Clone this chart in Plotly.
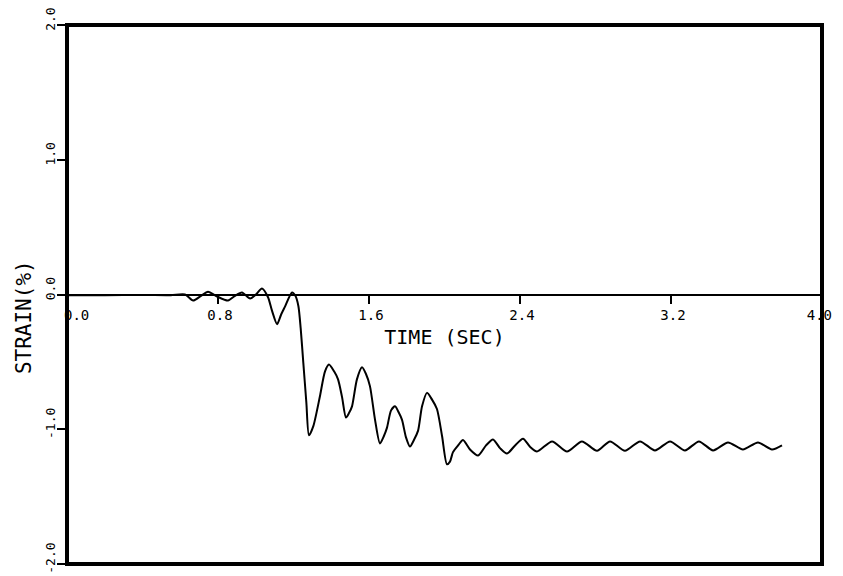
import plotly.graph_objects as go

# Time (s) and strain (%)
time_sec = [0.0, 0.2, 0.4, 0.55, 0.625, 0.668, 0.710, 0.747, 0.795, 0.853,
            0.890, 0.927, 0.970, 1.001, 1.033, 1.065, 1.086, 1.113, 1.134, 1.155,
            1.192, 1.210, 1.226, 1.238, 1.252, 1.268, 1.282, 1.305, 1.340, 1.367,
            1.388, 1.415, 1.436, 1.457, 1.478, 1.494, 1.510, 1.536, 1.563, 1.584,
            1.605, 1.632, 1.658, 1.679, 1.695, 1.717, 1.738, 1.759, 1.775, 1.796,
            1.817, 1.838, 1.860, 1.881, 1.907, 1.934, 1.960, 1.987, 2.013, 2.029,
            2.045, 2.072, 2.098, 2.135, 2.178, 2.220, 2.257, 2.294, 2.331, 2.374,
            2.416, 2.453, 2.490, 2.570, 2.649, 2.728, 2.808, 2.877, 2.956, 3.036,
            3.115, 3.195, 3.274, 3.348, 3.423, 3.502, 3.581, 3.661, 3.735, 3.788]
strain_pct = [-0.005, -0.005, -0.003, -0.005, 0.0, -0.045, -0.01, 0.02, -0.015, -0.045,
              -0.01, 0.015, -0.03, 0.0, 0.045, -0.02, -0.12, -0.22, -0.15, -0.09,
              0.015, -0.01, -0.087, -0.25, -0.507, -0.80, -1.045, -0.977, -0.755, -0.57,
              -0.52, -0.57, -0.63, -0.76, -0.913, -0.88, -0.83, -0.63, -0.54, -0.59,
              -0.68, -0.93, -1.105, -1.05, -0.99, -0.86, -0.83, -0.88, -0.93, -1.06,
              -1.128, -1.08, -1.01, -0.83, -0.73, -0.78, -0.85, -1.05, -1.26, -1.24,
              -1.17, -1.12, -1.08, -1.15, -1.195, -1.12, -1.076, -1.14, -1.18, -1.12,
              -1.07, -1.13, -1.165, -1.09, -1.165, -1.09, -1.16, -1.09, -1.16, -1.09,
              -1.157, -1.09, -1.157, -1.09, -1.157, -1.098, -1.15, -1.098, -1.15, -1.12]

x_ticks_inner = [0.8, 1.6, 2.4, 3.2]
x_tick_text_inner = ["0.8", "1.6", "2.4", "3.2"]
x_tick_start = [0.0]
x_tick_start_text = ["0.0"]
x_tick_end = [4.0]
x_tick_end_text = ["4.0"]
y_ticks = [-2.0, -1.0, 0.0, 1.0, 2.0]
y_tick_text = ["-2.0", "-1.0", "0.0", "1.0", "2.0"]

FONT = "DejaVu Sans Mono"
TICKFONT = dict(family=FONT, size=14, color="black")

fig = go.Figure()
fig.add_trace(go.Scatter(
    x=time_sec, y=strain_pct, mode="lines",
    line=dict(color="black", width=2, shape="spline", smoothing=0.7),
    showlegend=False, hoverinfo="skip",
))
# empty traces so the label-only overlay axes are drawn
fig.add_trace(go.Scatter(x=[], y=[], xaxis="x2", yaxis="y", showlegend=False, hoverinfo="skip"))
fig.add_trace(go.Scatter(x=[], y=[], xaxis="x3", yaxis="y", showlegend=False, hoverinfo="skip"))

label_axis = dict(
    range=[0, 4], overlaying="x", anchor="free", position=0.5, automargin=False,
    showgrid=False, zeroline=False, showline=False,
    ticks="outside", ticklen=8, tickwidth=2, tickcolor="rgba(0,0,0,0)",
    ticklabelstandoff=8, ticklabeloverflow="allow", tickfont=TICKFONT,
)

# page body adds an 8px offset, so the figure is 835x568
fig.update_layout(
    width=835, height=568,
    margin=dict(l=59, r=21, t=17, b=12, autoexpand=False),
    paper_bgcolor="white", plot_bgcolor="white",
    font=dict(family=FONT, color="black"),
    xaxis=dict(
        range=[0, 4], anchor="free", position=0.5, automargin=False,
        showgrid=False, zeroline=False,
        showline=True, linecolor="black", linewidth=2,
        ticks="outside", ticklen=8, tickwidth=2, tickcolor="black",
        tickvals=x_ticks_inner, ticktext=x_tick_text_inner,
        ticklabelshift=2, ticklabeloverflow="allow",
        tickfont=TICKFONT,
        title=dict(text="TIME (SEC)", font=dict(family=FONT, size=20, color="black"), standoff=7),
    ),
    xaxis2=dict(label_axis, tickvals=x_tick_start, ticktext=x_tick_start_text,
                ticklabelposition="outside right", ticklabelshift=-4),
    xaxis3=dict(label_axis, tickvals=x_tick_end, ticktext=x_tick_end_text,
                ticklabelposition="outside left", ticklabelshift=11),
    yaxis=dict(
        range=[-2, 2], showgrid=False, zeroline=False, showline=False, automargin=False,
        ticks="outside", ticklen=9, tickwidth=2, tickcolor="black",
        tickvals=y_ticks, ticktext=y_tick_text, tickangle=-90,
        ticklabelshift=-4, ticklabelstandoff=-3, ticklabeloverflow="allow",
        tickfont=dict(family=FONT, size=13, color="black"),
    ),
    shapes=[dict(type="rect", xref="paper", yref="paper", x0=0, x1=1, y0=0, y1=1,
                 line=dict(color="black", width=4), layer="above")],
    annotations=[dict(text="STRAIN(%)", xref="paper", yref="paper",
                      x=-0.057, y=0.458, xanchor="center", yanchor="middle",
                      textangle=-90, showarrow=False,
                      font=dict(family=FONT, size=21, color="black"))],
)

fig.write_html("out.html")
